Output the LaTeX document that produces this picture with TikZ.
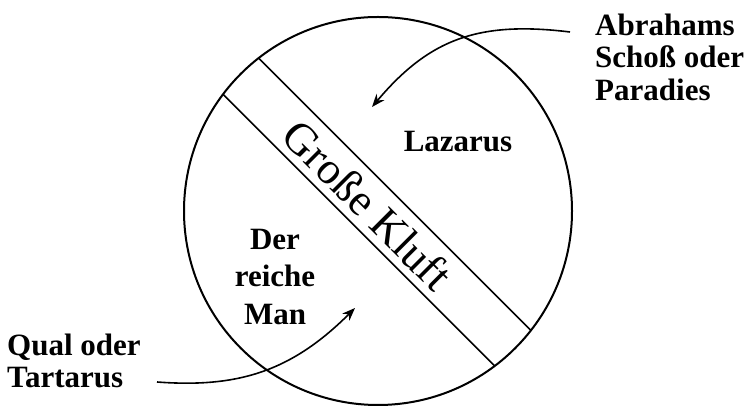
\documentclass[tikz,border=0pt]{standalone}
\usepackage{fontspec}
\setmainfont{Liberation Serif}
\usepackage{tikz}
\usetikzlibrary{arrows.meta}
\tikzset{
  rim/.style={circle,draw,line width=2pt,inner sep=0pt,outer sep=0pt,minimum size=388pt},
  wall/.style={line width=1.6pt},
  gulf/.style={font=\fontsize{45}{45}\selectfont,rotate=-45,inner sep=0pt},
  lbl/.style={font=\bfseries\fontsize{31}{32.5}\selectfont,inner sep=0pt,align=left},
  pointer/.style={-{Stealth[length=13pt,width=10pt]},line width=1.6pt}
}

\begin{document}
\begin{tikzpicture}[x=1pt,y=1pt]
  \useasboundingbox (0,0) rectangle (755,409);
  % the circle with the gulf across it
  \node[rim] (kreis) at (378,198) {};
  \draw[wall] (kreis.128.5) -- (kreis.-38.5);
  \draw[wall] (kreis.143.5) -- (kreis.-53.5);
  \node[gulf] (kluft) at (368,204) {Große Kluft};
  % labels
  \node[lbl,anchor=base] (lazarus) at (458,257) {Lazarus};
  \node[lbl,align=center,font=\bfseries\fontsize{31}{37.5}\selectfont] (reich) at (275,132) {Der\\reiche\\Man};
  \node[lbl,anchor=west] (abraham) at (595,352) {Abrahams\\Schoß oder\\Paradies};
  \node[lbl,anchor=west] (qual) at (7,48) {Qual oder\\Tartarus};
  % pointers
  \coordinate (abrahamend) at (570,377);
  \coordinate (abrahamtip) at (372,302);
  \coordinate (qualend) at (157,27);
  \coordinate (qualtip) at (355,101);
  \draw[pointer] (abrahamend) .. controls (480,388) and (430,371) .. (abrahamtip);
  \draw[pointer] (qualend) .. controls (237,21) and (291,37) .. (qualtip);
\end{tikzpicture}
\end{document}
